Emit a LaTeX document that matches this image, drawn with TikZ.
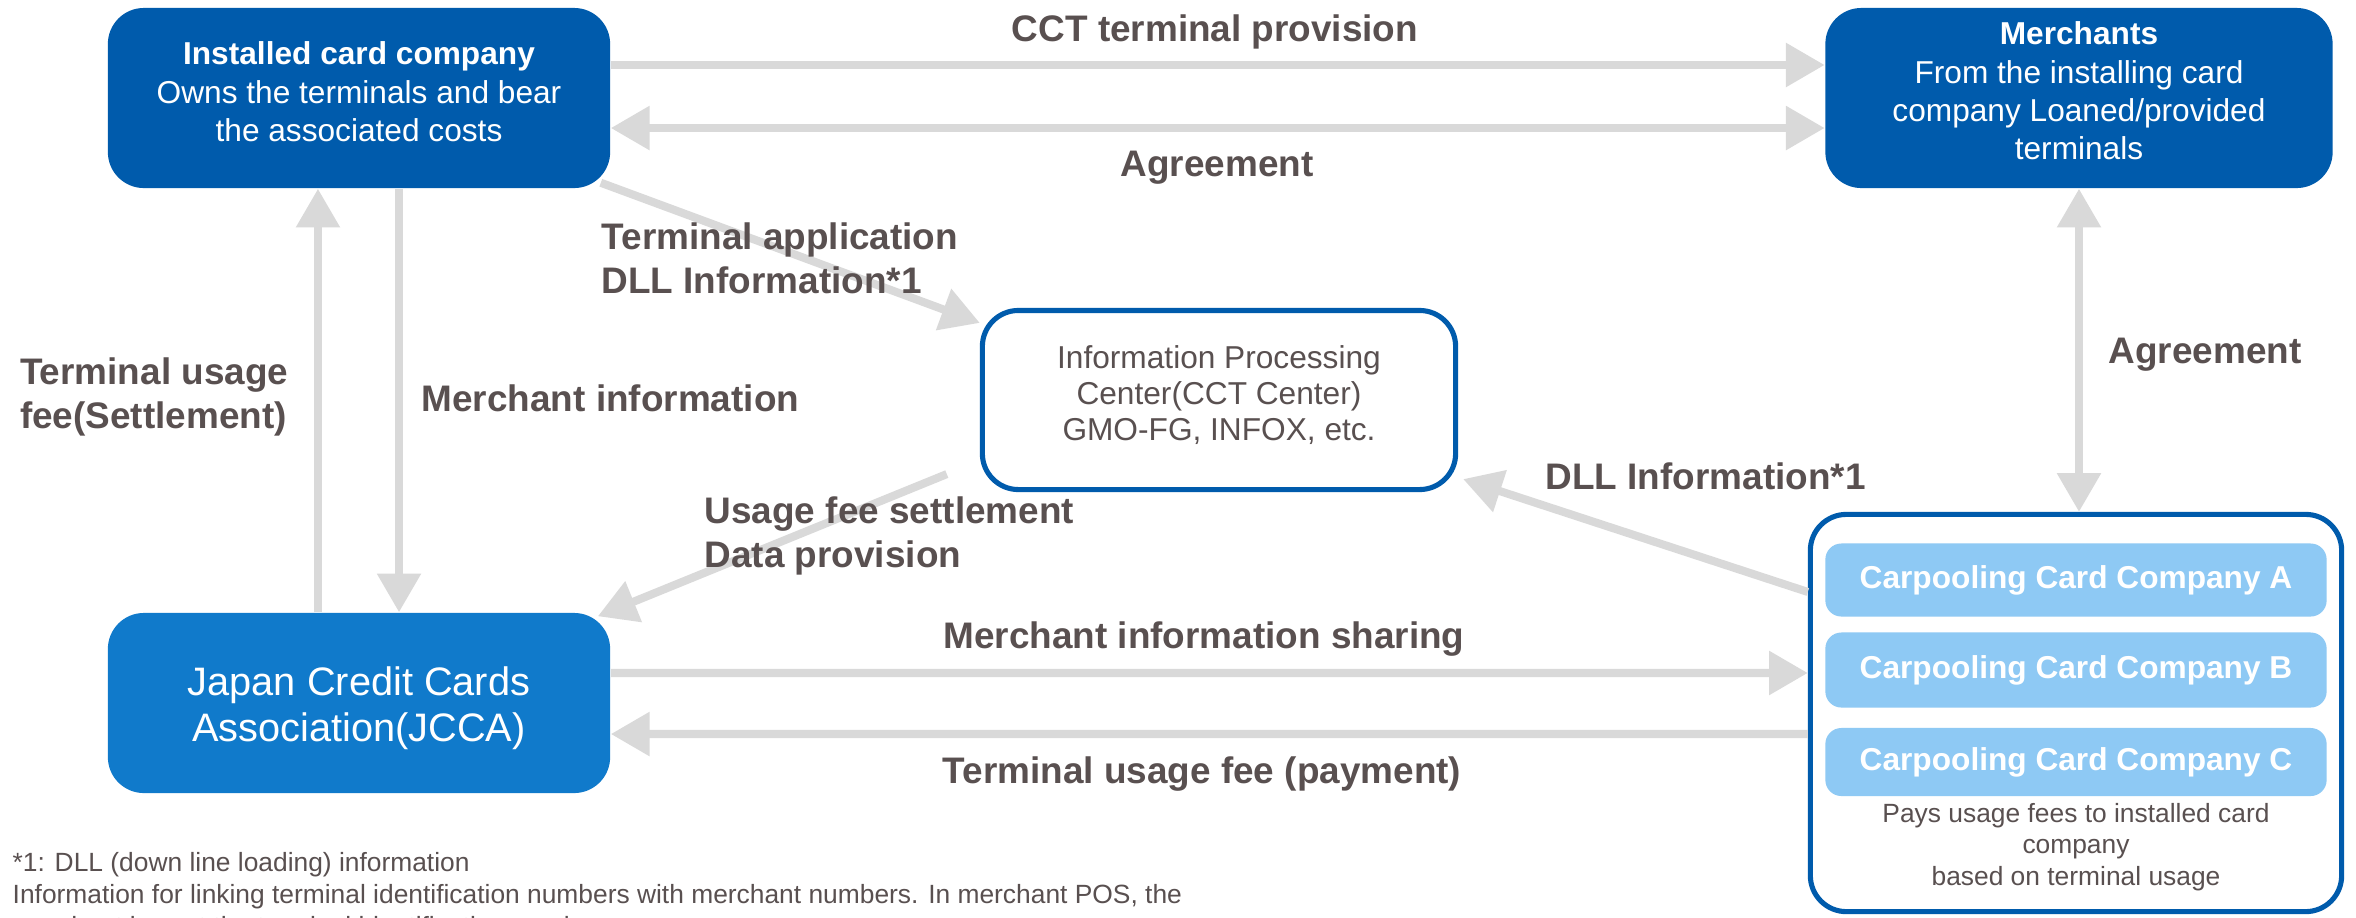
\documentclass[tikz,border=0pt]{standalone}
\usepackage{fontspec}
\setmainfont{Liberation Sans}
\usetikzlibrary{arrows.meta}
\definecolor{dblue}{RGB}{0,91,172}
\definecolor{mblue}{RGB}{16,122,203}
\definecolor{lblue}{RGB}{142,201,244}
\definecolor{agray}{RGB}{217,217,217}
\definecolor{tgray}{RGB}{89,80,80}
\begin{document}
\begin{tikzpicture}[x=0.01cm,y=-0.01cm,
  darkbox/.style={rectangle, rounded corners=0.36cm, fill=dblue, inner sep=0pt},
  boxtext/.style={text=white, align=center, inner sep=0pt, font=\fontsize{9}{10.9}\selectfont},
  jbox/.style={rectangle, rounded corners=0.36cm, fill=mblue, inner sep=0pt},
  framebox/.style={rectangle, rounded corners=0.36cm, draw=dblue, line width=1.45pt, fill=white, inner sep=0pt},
  cbox/.style={rectangle, rounded corners=0.16cm, fill=lblue, text=white, inner sep=0pt, minimum width=5.01cm, font=\bfseries\fontsize{9}{11}\selectfont},
  arr/.style={draw=agray, line width=2.3pt, -{Triangle[length=11pt,width=12pt]}},
  darr/.style={draw=agray, line width=2.3pt, {Triangle[length=11pt,width=12pt]}-{Triangle[length=11pt,width=12pt]}},
  lbl/.style={text=tgray, font=\bfseries\fontsize{10.5}{12.5}\selectfont, align=left, inner sep=0pt},
]
\clip (0,0) rectangle (2356,917);
\fill[white] (0,0) rectangle (2356,917);

% main nodes
\node[darkbox, minimum width=5.02cm, minimum height=1.80cm] (icc) at (359,98) {};
\node[boxtext] (icct) at (359,92)
  {\textbf{Installed card company}\\Owns the terminals and bear\\the associated costs};
\node[darkbox, minimum width=5.07cm, minimum height=1.80cm] (merch) at (2079,98) {};
\node[boxtext] (mercht) at (2079,91)
  {\textbf{Merchants}\\From the installing card\\company Loaned/provided\\terminals};
\node[framebox, minimum width=4.73cm, minimum height=1.79cm] (ipc) at (1219,400) {};
\node[text=tgray, align=center, inner sep=0pt, font=\fontsize{9}{10.2}\selectfont] (ipct) at (1219,395)
  {Information Processing\\Center(CCT Center)\\GMO-FG, INFOX, etc.};
\node[jbox, minimum width=5.02cm, minimum height=1.80cm] (jcca) at (359,703) {};
\node[text=white, align=center, inner sep=0pt, font=\fontsize{11.3}{13}\selectfont] (jccat) at (359,708)
  {Japan Credit Cards\\Association(JCCA)};
\node[framebox, minimum width=5.31cm, minimum height=3.97cm] (cp) at (2076,713) {};
\node[cbox, minimum height=0.73cm] (ca) at (2076,580) {Carpooling Card Company A};
\node[cbox, minimum height=0.75cm] (cb) at (2076,670) {Carpooling Card Company B};
\node[cbox, minimum height=0.68cm] (cc) at (2076,762) {Carpooling Card Company C};
\node[text=tgray, align=center, inner sep=0pt, font=\fontsize{7.5}{9}\selectfont] (cpnote) at (2076,847)
  {Pays usage fees to installed card\\company\\based on terminal usage};

% connectors
\draw[arr] ([yshift=0.33cm]icc.east) -- ([yshift=0.33cm]merch.west);
\draw[darr] ([yshift=-0.30cm]icc.east) -- ([yshift=-0.30cm]merch.west);
\draw[arr] ([xshift=-0.10cm,yshift=0.06cm]icc.south east) -- ([yshift=-0.15cm]ipc.north west);
\draw[arr] ([xshift=-0.41cm]jcca.north) -- ([xshift=-0.41cm]icc.south);
\draw[arr] ([xshift=0.40cm]icc.south) -- ([xshift=0.40cm]jcca.north);
\draw[arr] ([xshift=-0.33cm,yshift=0.18cm]ipc.south west) -- ([xshift=-0.13cm,yshift=-0.04cm]jcca.north east);
\draw[arr] ([yshift=1.21cm]cp.west) -- ([xshift=0.05cm,yshift=0.13cm]ipc.south east);
\draw[arr] ([yshift=0.30cm]jcca.east) -- ([yshift=0.40cm]cp.west);
\draw[arr] ([yshift=-0.21cm]cp.west) -- ([yshift=-0.31cm]jcca.east);
\draw[darr] (merch.south) -- (merch.south |- cp.north);

% labels
\node[lbl] (l1) at (1215,32) {CCT terminal provision};
\node[lbl] (l2) at (1217,168) {Agreement};
\node[lbl, anchor=west] (l3) at (601,258) {Terminal application\\DLL Information*1};
\node[lbl, anchor=east] (l4) at (289,397) {Terminal usage\\fee(Settlement)};
\node[lbl, anchor=west] (l5) at (421,398) {Merchant information};
\node[lbl, anchor=west] (l6) at (704,536) {Usage fee settlement\\Data provision};
\node[lbl, anchor=west] (l7) at (1545,476) {DLL Information*1};
\node[lbl] (l8) at (1204,639) {Merchant information sharing};
\node[lbl] (l9) at (1202,774) {Terminal usage fee (payment)};
\node[lbl, anchor=west] (l10) at (2108,355) {Agreement};

% footnote
\node[text=tgray, align=left, anchor=north west, inner sep=0pt, font=\fontsize{7.5}{9}\selectfont] (fn) at (12,852)
  {*1: DLL (down line loading) information\\Information for linking terminal identification numbers with merchant numbers. In merchant POS, the\\merchant is sent the terminal identification number};
\end{tikzpicture}
\end{document}
